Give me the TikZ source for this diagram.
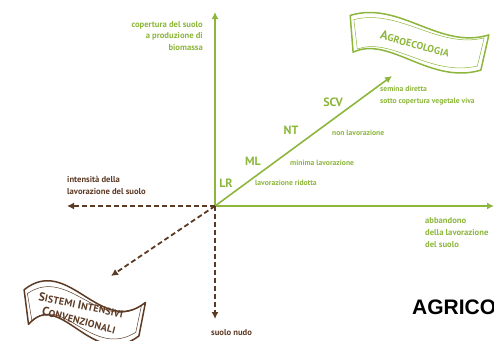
\documentclass[tikz,border=0pt]{standalone}
\usepackage{fontspec}
\setmainfont{PT Sans}
\setsansfont{Liberation Sans}
\usetikzlibrary{arrows.meta}

\definecolor{agreen}{RGB}{141,182,60}
\definecolor{soilbrown}{RGB}{92,58,36}

% wavy flag: centre, angle, width, height, wave, colour
\newcommand{\ribbon}[6]{%
  \begin{scope}[shift={#1}, rotate=#2, draw=#6]
    \draw[line width=1.5pt, line join=round]
      (-#3/2, #4/2) .. controls (-#3/6, #4/2+#5) and (#3/6, #4/2-#5) .. (#3/2, #4/2)
      -- (#3/2-3, -#4/2) .. controls (#3/6-5, -#4/2-#5) and (-#3/6-5, -#4/2+#5) .. (-#3/2+8, -#4/2)
      -- cycle;
    \draw[line width=0.5pt, xscale=0.94, yscale=0.8]
      (-#3/2, #4/2) .. controls (-#3/6, #4/2+#5) and (#3/6, #4/2-#5) .. (#3/2, #4/2)
      -- (#3/2-3, -#4/2) .. controls (#3/6-5, -#4/2-#5) and (-#3/6-5, -#4/2+#5) .. (-#3/2+8, -#4/2)
      -- cycle;
  \end{scope}}

\begin{document}
\begin{tikzpicture}[x=1pt, y=1pt,
    axis/.style={agreen, line width=2pt, -{Latex[length=7pt,width=7pt]}},
    tillage/.style={soilbrown, line width=1.8pt, dash pattern=on 5pt off 3pt,
                    -{Latex[length=7pt,width=7pt]}},
    note/.style={font=\fontsize{7.6}{12}\selectfont\bfseries, text=agreen, inner sep=0pt},
    abbr/.style={font=\fontsize{12}{12}\selectfont\bfseries, text=agreen, inner sep=0pt},
    caption/.style={font=\fontsize{8.6}{12}\selectfont\bfseries, inner sep=0pt},
    flagtxt/.style={inner sep=0pt, font=\fontsize{10}{12}\selectfont\bfseries\addfontfeature{LetterSpace=2}},
  ]
    \useasboundingbox (0,0) rectangle (494,-340);

    % axes
    \coordinate (o)     at (215,-206);
    \coordinate (cover) at (215,-12);
    \coordinate (left)  at (67,-206);
    \coordinate (right) at (494,-206);
    \coordinate (bare)  at (215,-319);
    \coordinate (conv)  at (111,-276);
    \coordinate (agroend) at (392,-76);

    \draw[axis] (o) -- (cover);
    \draw[axis] (o) -- (right);
    \draw[axis, line width=1.6pt] (o) -- (agroend);
    \draw[tillage] (o) -- (left);
    \draw[tillage] (o) -- (bare);
    \draw[tillage] (o) -- (conv);

    % axis captions
    \node[caption, text=agreen, anchor=east, align=right, font=\fontsize{8.6}{11.5}\selectfont\bfseries]
      (covtxt) at (203,-36) {copertura del suolo\\a produzione di\\biomassa};
    \node[caption, text=soilbrown, anchor=west, align=left] (intens) at (67,-185)
      {intensità della\\lavorazione del suolo};
    \node[caption, text=agreen, anchor=west, align=left] (abband) at (425,-233)
      {abbandono\\della lavorazione\\del suolo};
    \node[caption, text=soilbrown, anchor=west] (nudo) at (211,-333) {suolo nudo};

    % tillage steps
    \node[abbr] (lr)  at (226,-183) {LR};
    \node[abbr] (ml)  at (253,-161) {ML};
    \node[abbr] (nt)  at (291,-130) {NT};
    \node[abbr] (scv) at (333,-102) {SCV};
    \node[note, anchor=west] (lrtxt) at (255,-183) {lavorazione ridotta};
    \node[note, anchor=west] (mltxt) at (290,-163) {minima lavorazione};
    \node[note, anchor=west] (nttxt) at (332,-133) {non lavorazione};
    \node[note, anchor=west, align=left] (scvtxt) at (380,-96)
      {semina diretta\\sotto copertura vegetale viva};

    % banners
    \ribbon{(417,-43)}{-8}{140}{36}{22}{agreen}
    \node[flagtxt, text=agreen, rotate=-15] (agro) at (415,-44)
      {{\fontsize{12.5}{12}\selectfont A}GROECOLOGIA};
    \ribbon{(83,-313)}{-6}{122}{34}{40}{soilbrown}
    \node[flagtxt, text=soilbrown, rotate=-12] (sist1) at (81,-305)
      {{\fontsize{12}{12}\selectfont S}ISTEMI {\fontsize{12}{12}\selectfont I}NTENSIVI};
    \node[flagtxt, text=soilbrown, rotate=-15] (sist2) at (79,-320)
      {{\fontsize{12}{12}\selectfont C}ONVENZIONALI};

    \node[font=\sffamily\bfseries\fontsize{21}{21}\selectfont, anchor=west, inner sep=0pt]
      (agri) at (412,-307.5) {AGRICO};
\end{tikzpicture}
\end{document}
